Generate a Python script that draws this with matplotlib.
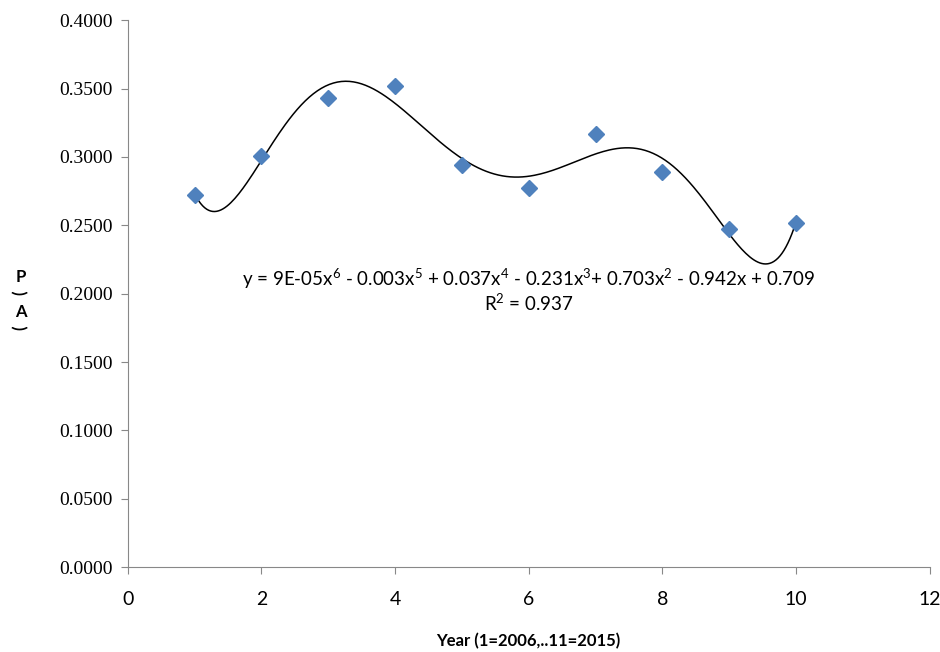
import numpy as np
import matplotlib.pyplot as plt

# year index and P(A) values
years = [1, 2, 3, 4, 5, 6, 7, 8, 9, 10]
pa = [0.2725, 0.301, 0.343, 0.352, 0.294, 0.277, 0.317, 0.289, 0.247, 0.252]

x_ticks = [0, 2, 4, 6, 8, 10, 12]
y_ticks = [0.0, 0.05, 0.1, 0.15, 0.2, 0.25, 0.3, 0.35, 0.4]

eq_text = ('y = 9E-05x$^6$ - 0.003x$^5$ + 0.037x$^4$ - 0.231x$^3$'
           '+ 0.703x$^2$ - 0.942x + 0.709')
r2_text = 'R$^2$ = 0.937'

plt.rcParams['mathtext.fontset'] = 'custom'
plt.rcParams['mathtext.rm'] = 'Lato'

fig = plt.figure(figsize=(9.4, 6.52), dpi=100)
ax = fig.add_axes([0.136, 0.130, 0.853, 0.839])

# 6th order polynomial trend line
coef = np.polyfit(years, pa, 6)
xs = np.linspace(min(years), max(years), 300)
ax.plot(xs, np.polyval(coef, xs), color='black', lw=1.1, zorder=2)
ax.plot(years, pa, 'D', color='#4F81BD', markersize=8.5, zorder=3)

ax.set_xlim(0, 12)
ax.set_ylim(0, 0.4)
ax.set_xticks(x_ticks)
ax.set_yticks(y_ticks)
ax.set_xticklabels([str(v) for v in x_ticks], family='Lato', fontsize=14)
ax.set_yticklabels([f'{v:.4f}' for v in y_ticks], family='Liberation Serif',
                   fontsize=14)
ax.tick_params(direction='out', length=5, color='#888888', pad=6)
ax.tick_params(axis='x', pad=12)

for s in ['top', 'right']:
    ax.spines[s].set_visible(False)
for s in ['left', 'bottom']:
    ax.spines[s].set_color('#888888')

ax.text(6.0, 0.2108, eq_text, ha='center', va='center', family='Lato',
        fontsize=13.5)
ax.text(6.0, 0.1935, r2_text, ha='center', va='center', family='Lato',
        fontsize=13.5)

ax.set_xlabel('Year (1=2006,..11=2015)', family='Lato', fontweight='bold',
              fontsize=12, labelpad=18)

# vertical stacked label P(A)
lab_x = 0.022
fig.text(lab_x, 0.575, 'P', ha='center', va='center', family='Lato',
         fontweight='bold', fontsize=12)
fig.text(lab_x, 0.551, '(', ha='center', va='center', family='Lato',
         fontweight='bold', fontsize=12, rotation=90)
fig.text(lab_x, 0.521, 'A', ha='center', va='center', family='Lato',
         fontweight='bold', fontsize=12)
fig.text(lab_x, 0.497, '(', ha='center', va='center', family='Lato',
         fontweight='bold', fontsize=12, rotation=90)

fig.savefig('out.png', dpi=100)
